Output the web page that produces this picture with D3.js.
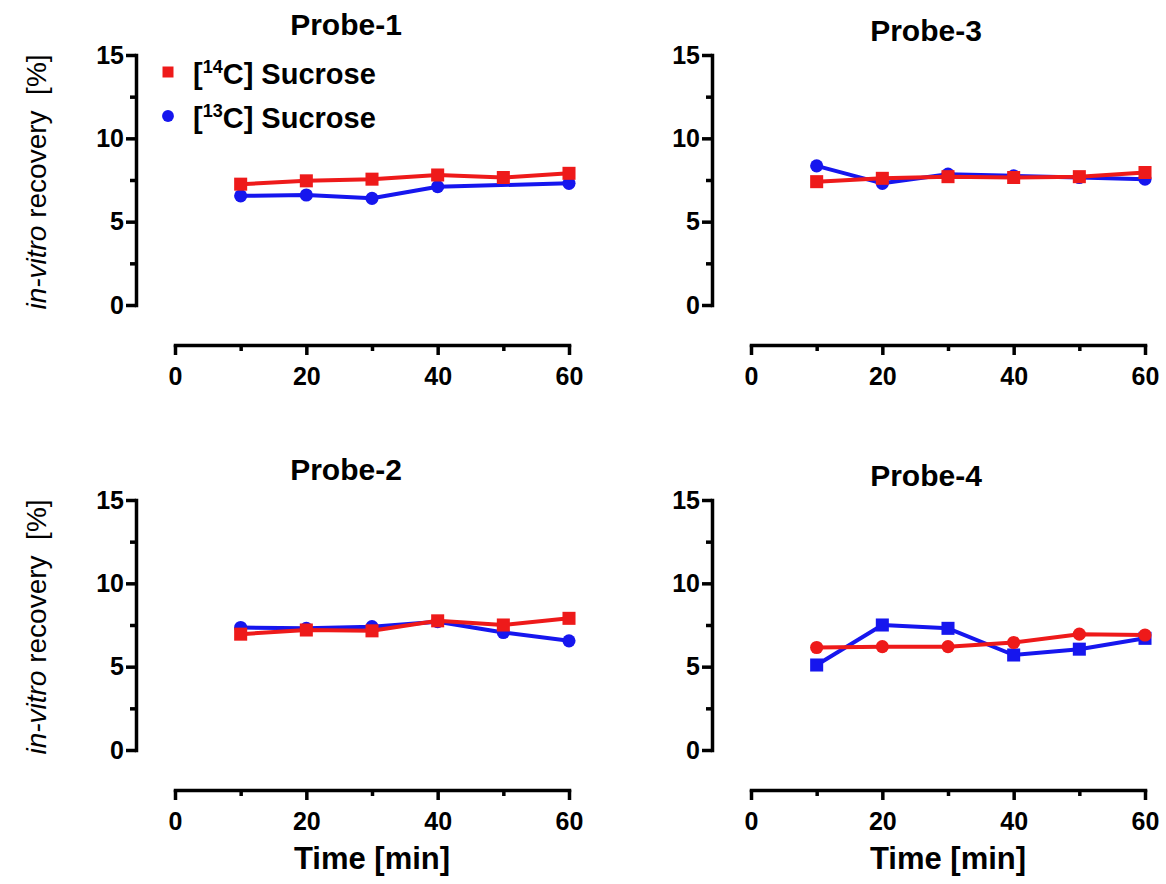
<!DOCTYPE html>
<html lang="en">
<head>
    <meta charset="UTF-8">
    <title>In-vitro recovery per probe</title>
    <script src="https://d3js.org/d3.v7.min.js"></script>
    <style>
        body { margin: 0; background: #fff; }
        svg { font-family: "Liberation Sans", Arial, sans-serif; }
        .axis path, .axis line { stroke: #000; stroke-width: 3.5; }
        .axis text { font-size: 25px; font-weight: bold; fill: #000; }
        .title { font-size: 30px; font-weight: bold; }
        .xlabel { font-size: 31px; font-weight: bold; }
        .ylabel { font-size: 28px; }
        .legend text { font-size: 29px; font-weight: bold; }
    </style>
</head>
<body>
    <div id="chart"></div>
    <script>
        // sampling times (min)
        const times = [10, 20, 30, 40, 50, 60];

        // recovery [%]; null = no point drawn
        const probe1C14 = [7.25, 7.45, 7.55, 7.8, 7.65, 7.9];
        const probe1C13 = [6.55, 6.6, 6.4, 7.1, null, 7.3];
        const probe3C14 = [7.4, 7.6, 7.7, 7.65, 7.7, 7.95];
        const probe3C13 = [8.35, 7.3, 7.85, 7.75, 7.65, 7.55];
        const probe2C14 = [6.95, 7.2, 7.15, 7.75, 7.5, 7.9];
        const probe2C13 = [7.35, 7.3, 7.4, 7.7, 7.05, 6.55];
        const probe4C14 = [6.15, 6.2, 6.2, 6.45, 6.95, 6.9];
        const probe4C13 = [5.1, 7.5, 7.3, 5.7, 6.05, 6.7];

        const xTicks = [0, 20, 40, 60];
        const xMinor = [10, 30, 50];
        const yTicks = [0, 5, 10, 15];
        const yMinor = [2.5, 7.5, 12.5];

        const red = "#ee1a1a", blue = "#1616ee";

        const panels = [
            {title: "Probe-1", col: 0, row: 0, c14: probe1C14, c13: probe1C13, s14: "square", s13: "circle", legend: true},
            {title: "Probe-3", col: 1, row: 0, c14: probe3C14, c13: probe3C13, s14: "square", s13: "circle"},
            {title: "Probe-2", col: 0, row: 1, c14: probe2C14, c13: probe2C13, s14: "square", s13: "circle"},
            {title: "Probe-4", col: 1, row: 1, c14: probe4C14, c13: probe4C13, s14: "circle", s13: "square"}
        ];

        const W = 1166, H = 884;
        const svg = d3.select("#chart").append("svg")
            .attr("width", W)
            .attr("height", H);

        const colStep = 576, rowStep = 445;
        const yAxisX = 136;

        const x = d3.scaleLinear().domain([0, 60]).range([175, 569]);
        const y = d3.scaleLinear().domain([0, 15]).range([305, 55]);
        const xAxisY = 345;

        const symbolOf = s => d3.symbol()
            .type(s === "square" ? d3.symbolSquare : d3.symbolCircle)
            .size(s === "square" ? 170 : 135);

        panels.forEach(p => {
            const g = svg.append("g")
                .attr("transform", `translate(${p.col * colStep},${p.row * rowStep})`);

            // title
            g.append("text")
                .attr("class", "title")
                .attr("x", (x.range()[0] + x.range()[1]) / 2 - 26 + (p.col === 1 ? 4 : 0))
                .attr("y", 35 + (p.col === 1 ? 6 : 0))
                .attr("text-anchor", "middle")
                .text(p.title);

            // y axis, major + minor ticks
            g.append("g")
                .attr("class", "axis")
                .attr("transform", `translate(${yAxisX},0)`)
                .call(d3.axisLeft(y).tickValues(yTicks).tickSize(10).tickSizeOuter(0).tickPadding(2));
            g.append("g")
                .attr("class", "axis")
                .attr("transform", `translate(${yAxisX},0)`)
                .call(d3.axisLeft(y).tickValues(yMinor).tickSize(6).tickFormat(""))
                .select(".domain").remove();

            // x axis, offset below the plot
            g.append("g")
                .attr("class", "axis")
                .attr("transform", `translate(0,${xAxisY})`)
                .call(d3.axisBottom(x).tickValues(xTicks).tickSize(10).tickSizeOuter(0).tickPadding(12));
            g.append("g")
                .attr("class", "axis")
                .attr("transform", `translate(0,${xAxisY})`)
                .call(d3.axisBottom(x).tickValues(xMinor).tickSize(6).tickFormat(""))
                .select(".domain").remove();

            g.selectAll(".axis .domain").attr("stroke-linecap", "square");

            if (p.col === 0) {
                const yl = g.append("text")
                    .attr("class", "ylabel")
                    .attr("transform", `translate(46,${(y.range()[0] + y.range()[1]) / 2 + 2}) rotate(-90)`)
                    .attr("text-anchor", "middle");
                yl.append("tspan").attr("font-style", "italic").text("in-vitro");
                yl.append("tspan").text(" recovery \u00a0[%]");
            }
            if (p.row === 1) {
                g.append("text")
                    .attr("class", "xlabel")
                    .attr("x", (x.range()[0] + x.range()[1]) / 2)
                    .attr("y", 424)
                    .attr("text-anchor", "middle")
                    .text("Time [min]");
            }

            const series = [
                {vals: p.c13, color: blue, shape: p.s13},
                {vals: p.c14, color: red, shape: p.s14}
            ];
            series.forEach(s => {
                const pts = times.map((t, i) => ({t: t, v: s.vals[i]})).filter(d => d.v != null);
                g.append("path")
                    .datum(pts)
                    .attr("fill", "none")
                    .attr("stroke", s.color)
                    .attr("stroke-width", 4)
                    .attr("stroke-linejoin", "round")
                    .attr("d", d3.line().x(d => x(d.t)).y(d => y(d.v)));
                g.selectAll(null)
                    .data(pts)
                    .enter().append("path")
                    .attr("transform", d => `translate(${x(d.t)},${y(d.v)})`)
                    .attr("fill", s.color)
                    .attr("d", symbolOf(s.shape)());
            });

            if (p.legend) {
                const items = [
                    {iso: "14", color: red, shape: "square"},
                    {iso: "13", color: blue, shape: "circle"}
                ];
                const lg = g.append("g").attr("class", "legend")
                    .selectAll("g")
                    .data(items)
                    .enter().append("g")
                    .attr("transform", (d, i) => `translate(168,${72 + i * 44})`);
                lg.append("path")
                    .attr("fill", d => d.color)
                    .attr("d", d => d3.symbol()
                        .type(d.shape === "square" ? d3.symbolSquare : d3.symbolCircle)
                        .size(d.shape === "square" ? 121 : 110)());
                const lt = lg.append("text")
                    .attr("x", 25)
                    .attr("y", 12);
                lt.append("tspan").text("[");
                lt.append("tspan").attr("dy", -11).attr("font-size", "18px").text(d => d.iso);
                lt.append("tspan").attr("dy", 11).text("C] Sucrose");
            }
        });
    </script>
</body>
</html>
